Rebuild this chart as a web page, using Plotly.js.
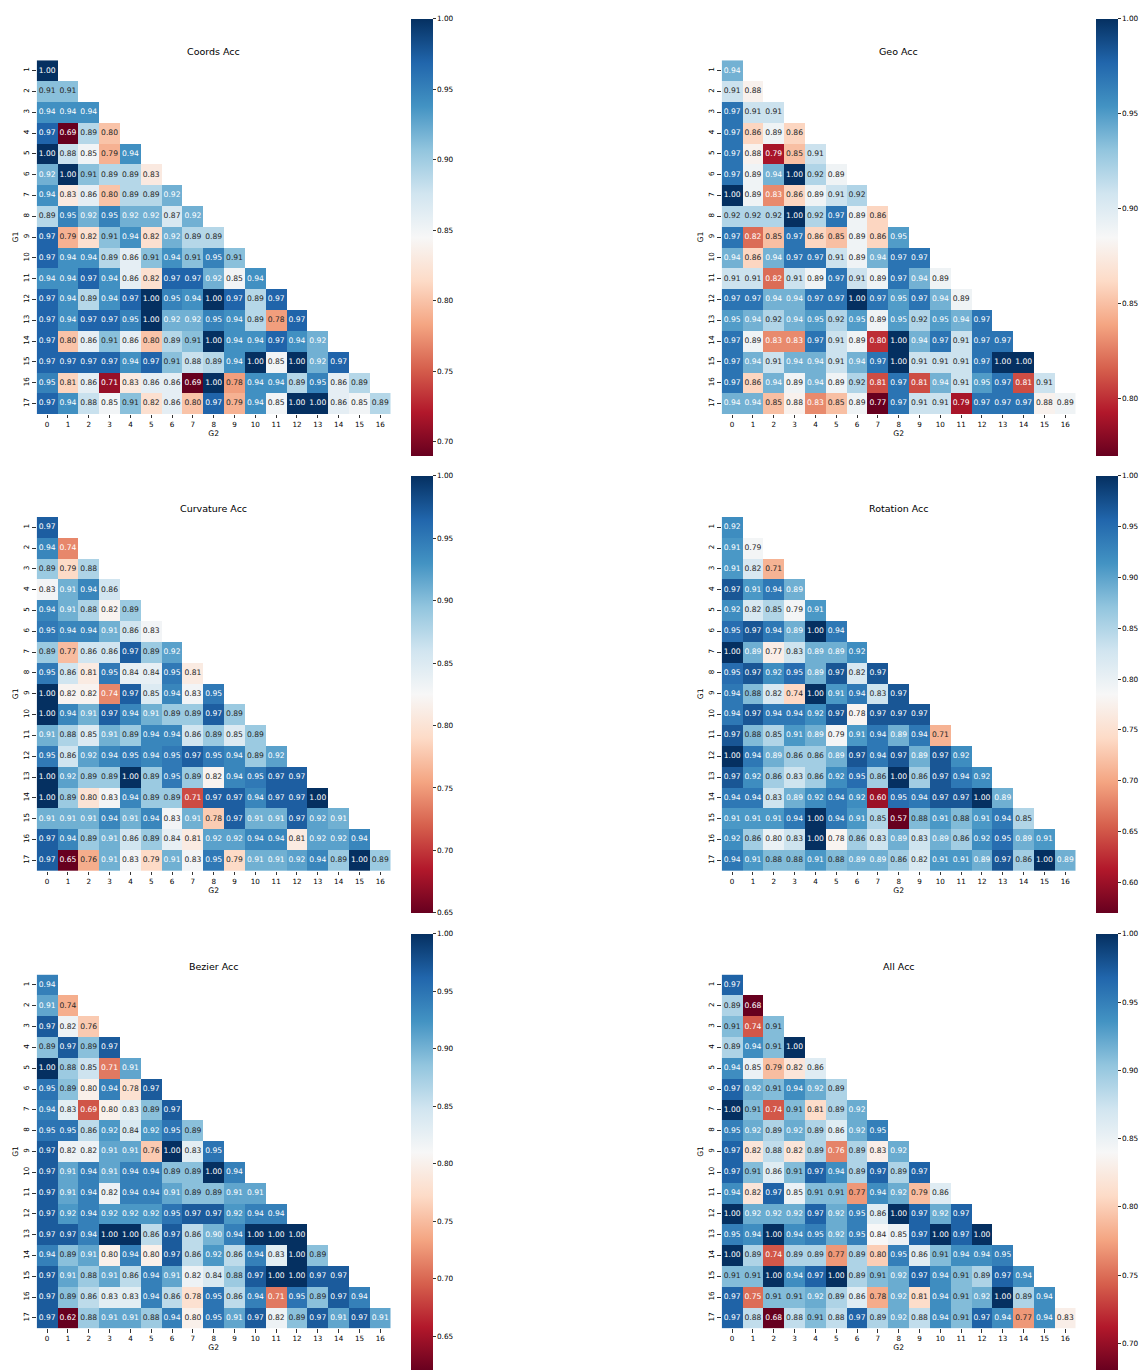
<!DOCTYPE html>
<html><head><meta charset="utf-8">
<script src="https://cdn.plot.ly/plotly-3.0.1.min.js"></script>
<style>html,body{margin:0;padding:0;background:#fff}</style>
</head><body><div id="chart" style="width:1141px;height:1370px"></div>
<script>
// ---------------- DATA ----------------
const g2Labels = [0,1,2,3,4,5,6,7,8,9,10,11,12,13,14,15,16];
const g1Labels = [1,2,3,4,5,6,7,8,9,10,11,12,13,14,15,16,17];
const titles = ["Coords Acc","Geo Acc","Curvature Acc","Rotation Acc","Bezier Acc","All Acc"];
const xTitle = "G2";
const yTitle = "G1";

const coordsAcc = [
 [1.00],
 [0.91,0.91],
 [0.94,0.94,0.94],
 [0.97,0.69,0.89,0.80],
 [1.00,0.88,0.85,0.79,0.94],
 [0.92,1.00,0.91,0.89,0.89,0.83],
 [0.94,0.83,0.86,0.80,0.89,0.89,0.92],
 [0.89,0.95,0.92,0.95,0.92,0.92,0.87,0.92],
 [0.97,0.79,0.82,0.91,0.94,0.82,0.92,0.89,0.89],
 [0.97,0.94,0.94,0.89,0.86,0.91,0.94,0.91,0.95,0.91],
 [0.94,0.94,0.97,0.94,0.86,0.82,0.97,0.97,0.92,0.85,0.94],
 [0.97,0.94,0.89,0.94,0.97,1.00,0.95,0.94,1.00,0.97,0.89,0.97],
 [0.97,0.94,0.97,0.97,0.95,1.00,0.92,0.92,0.95,0.94,0.89,0.78,0.97],
 [0.97,0.80,0.86,0.91,0.86,0.80,0.89,0.91,1.00,0.94,0.94,0.97,0.94,0.92],
 [0.97,0.97,0.97,0.97,0.94,0.97,0.91,0.88,0.89,0.94,1.00,0.85,1.00,0.92,0.97],
 [0.95,0.81,0.86,0.71,0.83,0.86,0.86,0.69,1.00,0.78,0.94,0.94,0.89,0.95,0.86,0.89],
 [0.97,0.94,0.88,0.85,0.91,0.82,0.86,0.80,0.97,0.79,0.94,0.85,1.00,1.00,0.86,0.85,0.89]
];
const geoAcc = [
 [0.94],
 [0.91,0.88],
 [0.97,0.91,0.91],
 [0.97,0.86,0.89,0.86],
 [0.97,0.88,0.79,0.85,0.91],
 [0.97,0.89,0.94,1.00,0.92,0.89],
 [1.00,0.89,0.83,0.86,0.89,0.91,0.92],
 [0.92,0.92,0.92,1.00,0.92,0.97,0.89,0.86],
 [0.97,0.82,0.85,0.97,0.86,0.85,0.89,0.86,0.95],
 [0.94,0.86,0.94,0.97,0.97,0.91,0.89,0.94,0.97,0.97],
 [0.91,0.91,0.82,0.91,0.89,0.97,0.91,0.89,0.97,0.94,0.89],
 [0.97,0.97,0.94,0.94,0.97,0.97,1.00,0.97,0.95,0.97,0.94,0.89],
 [0.95,0.94,0.92,0.94,0.95,0.92,0.95,0.89,0.95,0.92,0.95,0.94,0.97],
 [0.97,0.89,0.83,0.83,0.97,0.91,0.89,0.80,1.00,0.94,0.97,0.91,0.97,0.97],
 [0.97,0.94,0.91,0.94,0.94,0.91,0.94,0.97,1.00,0.91,0.91,0.91,0.97,1.00,1.00],
 [0.97,0.86,0.94,0.89,0.94,0.89,0.92,0.81,0.97,0.81,0.94,0.91,0.95,0.97,0.81,0.91],
 [0.94,0.94,0.85,0.88,0.83,0.85,0.89,0.77,0.97,0.91,0.91,0.79,0.97,0.97,0.97,0.88,0.89]
];
const curvatureAcc = [
 [0.97],
 [0.94,0.74],
 [0.89,0.79,0.88],
 [0.83,0.91,0.94,0.86],
 [0.94,0.91,0.88,0.82,0.89],
 [0.95,0.94,0.94,0.91,0.86,0.83],
 [0.89,0.77,0.86,0.86,0.97,0.89,0.92],
 [0.95,0.86,0.81,0.95,0.84,0.84,0.95,0.81],
 [1.00,0.82,0.82,0.74,0.97,0.85,0.94,0.83,0.95],
 [1.00,0.94,0.91,0.97,0.94,0.91,0.89,0.89,0.97,0.89],
 [0.91,0.88,0.85,0.91,0.89,0.94,0.94,0.86,0.89,0.85,0.89],
 [0.95,0.86,0.92,0.94,0.95,0.94,0.95,0.97,0.95,0.94,0.89,0.92],
 [1.00,0.92,0.89,0.89,1.00,0.89,0.95,0.89,0.82,0.94,0.95,0.97,0.97],
 [1.00,0.89,0.80,0.83,0.94,0.89,0.89,0.71,0.97,0.97,0.94,0.97,0.97,1.00],
 [0.91,0.91,0.91,0.94,0.91,0.94,0.83,0.91,0.78,0.97,0.91,0.91,0.97,0.92,0.91],
 [0.97,0.94,0.89,0.91,0.86,0.89,0.84,0.81,0.92,0.92,0.94,0.94,0.81,0.92,0.92,0.94],
 [0.97,0.65,0.76,0.91,0.83,0.79,0.91,0.83,0.95,0.79,0.91,0.91,0.92,0.94,0.89,1.00,0.89]
];
const rotationAcc = [
 [0.92],
 [0.91,0.79],
 [0.91,0.82,0.71],
 [0.97,0.91,0.94,0.89],
 [0.92,0.82,0.85,0.79,0.91],
 [0.95,0.97,0.94,0.89,1.00,0.94],
 [1.00,0.89,0.77,0.83,0.89,0.89,0.92],
 [0.95,0.97,0.92,0.95,0.89,0.97,0.82,0.97],
 [0.94,0.88,0.82,0.74,1.00,0.91,0.94,0.83,0.97],
 [0.94,0.97,0.94,0.94,0.92,0.97,0.78,0.97,0.97,0.97],
 [0.97,0.88,0.85,0.91,0.89,0.79,0.91,0.94,0.89,0.94,0.71],
 [1.00,0.94,0.89,0.86,0.86,0.89,0.97,0.94,0.97,0.89,0.97,0.92],
 [0.97,0.92,0.86,0.83,0.86,0.92,0.95,0.86,1.00,0.86,0.97,0.94,0.92],
 [0.94,0.94,0.83,0.89,0.92,0.94,0.92,0.60,0.95,0.94,0.97,0.97,1.00,0.89],
 [0.91,0.91,0.91,0.94,1.00,0.94,0.91,0.85,0.57,0.88,0.91,0.88,0.91,0.94,0.85],
 [0.92,0.86,0.80,0.83,1.00,0.78,0.86,0.83,0.89,0.83,0.89,0.86,0.92,0.95,0.89,0.91],
 [0.94,0.91,0.88,0.88,0.91,0.88,0.89,0.89,0.86,0.82,0.91,0.91,0.89,0.97,0.86,1.00,0.89]
];
const bezierAcc = [
 [0.94],
 [0.91,0.74],
 [0.97,0.82,0.76],
 [0.89,0.97,0.89,0.97],
 [1.00,0.88,0.85,0.71,0.91],
 [0.95,0.89,0.80,0.94,0.78,0.97],
 [0.94,0.83,0.69,0.80,0.83,0.89,0.97],
 [0.95,0.95,0.86,0.92,0.84,0.92,0.95,0.89],
 [0.97,0.82,0.82,0.91,0.91,0.76,1.00,0.83,0.95],
 [0.97,0.91,0.94,0.91,0.94,0.94,0.89,0.89,1.00,0.94],
 [0.97,0.91,0.94,0.82,0.94,0.94,0.91,0.89,0.89,0.91,0.91],
 [0.97,0.92,0.94,0.92,0.92,0.92,0.95,0.97,0.97,0.92,0.94,0.94],
 [0.97,0.97,0.94,1.00,1.00,0.86,0.97,0.86,0.90,0.94,1.00,1.00,1.00],
 [0.94,0.89,0.91,0.80,0.94,0.80,0.97,0.86,0.92,0.86,0.94,0.83,1.00,0.89],
 [0.97,0.91,0.88,0.91,0.86,0.94,0.91,0.82,0.84,0.88,0.97,1.00,1.00,0.97,0.97],
 [0.97,0.89,0.86,0.83,0.83,0.94,0.86,0.78,0.95,0.86,0.94,0.71,0.95,0.89,0.97,0.94],
 [0.97,0.62,0.88,0.91,0.91,0.88,0.94,0.80,0.95,0.91,0.97,0.82,0.89,0.97,0.91,0.97,0.91]
];
const allAcc = [
 [0.97],
 [0.89,0.68],
 [0.91,0.74,0.91],
 [0.89,0.94,0.91,1.00],
 [0.94,0.85,0.79,0.82,0.86],
 [0.97,0.92,0.91,0.94,0.92,0.89],
 [1.00,0.91,0.74,0.91,0.81,0.89,0.92],
 [0.95,0.92,0.89,0.92,0.89,0.86,0.92,0.95],
 [0.97,0.82,0.88,0.82,0.89,0.76,0.89,0.83,0.92],
 [0.97,0.91,0.86,0.91,0.97,0.94,0.89,0.97,0.89,0.97],
 [0.94,0.82,0.97,0.85,0.91,0.91,0.77,0.94,0.92,0.79,0.86],
 [1.00,0.92,0.92,0.92,0.97,0.92,0.95,0.86,1.00,0.97,0.92,0.97],
 [0.95,0.94,1.00,0.94,0.95,0.92,0.95,0.84,0.85,0.97,1.00,0.97,1.00],
 [1.00,0.89,0.74,0.89,0.89,0.77,0.89,0.80,0.95,0.86,0.91,0.94,0.94,0.95],
 [0.91,0.91,1.00,0.94,0.97,1.00,0.89,0.91,0.92,0.97,0.94,0.91,0.89,0.97,0.94],
 [0.97,0.75,0.91,0.91,0.92,0.89,0.86,0.78,0.92,0.81,0.94,0.91,0.92,1.00,0.89,0.94],
 [0.97,0.88,0.68,0.88,0.91,0.88,0.97,0.89,0.92,0.88,0.94,0.91,0.97,0.94,0.77,0.94,0.83]
];
const datasets = [coordsAcc, geoAcc, curvatureAcc, rotationAcc, bezierAcc, allAcc];

// ---------------- STYLE ----------------
const W = 1141, H = 1370;
const FONT = "DejaVu Sans, Liberation Sans, sans-serif";
const rdbuStops = [
 [0.0,[103,0,31]],[0.1,[178,24,43]],[0.2,[214,96,77]],[0.3,[244,165,130]],
 [0.4,[253,219,199]],[0.5,[247,247,247]],[0.6,[209,229,240]],[0.7,[146,197,222]],
 [0.8,[67,147,195]],[0.9,[33,102,172]],[1.0,[5,48,97]]
];
const colorscale = rdbuStops.map(s => [s[0], `rgb(${s[1].join(',')})`]);

function colorAt(t){
  t = Math.max(0, Math.min(1, t));
  for (let i = 1; i < rdbuStops.length; i++){
    if (t <= rdbuStops[i][0]){
      const a = rdbuStops[i-1], b = rdbuStops[i];
      const f = (t - a[0]) / (b[0] - a[0]);
      return a[1].map((c, k) => c + f * (b[1][k] - c));
    }
  }
  return rdbuStops[rdbuStops.length-1][1];
}
function lum(rgb){
  const l = rgb.map(c => { c /= 255; return c <= 0.03928 ? c/12.92 : Math.pow((c+0.055)/1.055, 2.4); });
  return 0.2126*l[0] + 0.7152*l[1] + 0.0722*l[2];
}

// panel pixel geometry
const cellsPx = 354;
const panelPos = [
  [36.7, 60.3],[721.7, 60.3],
  [36.7, 517.3],[721.7, 517.3],
  [36.7, 975.3],[721.7, 975.3]
];
const px2x = p => p / W;
const px2y = p => 1 - p / H;

const traces = [];
const layout = {
  width: W, height: H,
  margin: {l:0, r:0, t:0, b:0},
  paper_bgcolor: '#fff', plot_bgcolor: '#fff',
  showlegend: false,
  font: {family: FONT, color: '#000'},
  annotations: []
};

datasets.forEach((rows, i) => {
  const n = i + 1;
  const xa = n === 1 ? 'x' : 'x' + n;
  const ya = n === 1 ? 'y' : 'y' + n;
  const [x0, y0] = panelPos[i];
  const flat = rows.flat();
  const zmin = Math.min(...flat), zmax = Math.max(...flat);
  const z = rows.map(r => g2Labels.map((_, c) => c < r.length ? r[c] : null));

  traces.push({
    type: 'heatmap', x: g2Labels, y: g1Labels, z: z,
    xaxis: xa, yaxis: ya,
    colorscale: colorscale, zmin: zmin, zmax: zmax,
    hoverinfo: 'skip',
    colorbar: {
      x: px2x(x0 + 374.5), xanchor: 'left', xpad: 0,
      y: px2y(y0 + cellsPx/2), yanchor: 'middle', ypad: 0,
      lenmode: 'pixels', len: 437,
      thicknessmode: 'pixels', thickness: 22,
      outlinewidth: 0,
      ticks: 'outside', ticklen: 3, tickwidth: 0.8, tickcolor: '#000',
      tick0: 0, dtick: 0.05, tickformat: '.2f',
      tickfont: {family: FONT, size: 7.3, color: '#000'}
    }
  });

  // annotation text
  const tx = [], ty = [], tt = [], tc = [];
  rows.forEach((r, ri) => r.forEach((v, ci) => {
    tx.push(g2Labels[ci]); ty.push(g1Labels[ri]); tt.push(v.toFixed(2));
    tc.push(lum(colorAt((v - zmin) / (zmax - zmin))) > 0.408 ? '#262626' : '#ffffff');
  }));
  traces.push({
    type: 'scatter', mode: 'text', x: tx, y: ty, text: tt,
    textposition: 'middle center',
    textfont: {family: FONT, size: 7.6, color: tc},
    xaxis: xa, yaxis: ya, hoverinfo: 'skip', cliponaxis: false
  });

  const xkey = n === 1 ? 'xaxis' : 'xaxis' + n;
  const ykey = n === 1 ? 'yaxis' : 'yaxis' + n;
  layout[xkey] = {
    domain: [px2x(x0), px2x(x0 + cellsPx)], anchor: ya,
    range: [-0.5, 16.5], tickvals: g2Labels, ticktext: g2Labels.map(String),
    ticks: 'outside', ticklen: 3.5, tickwidth: 0.8, tickcolor: '#000',
    showgrid: false, zeroline: false, showline: false,
    tickfont: {family: FONT, size: 7.2, color: '#000'},
    title: {text: xTitle, font: {family: FONT, size: 7.6, color: '#000'}, standoff: 2}
  };
  layout[ykey] = {
    domain: [px2y(y0 + cellsPx), px2y(y0)], anchor: xa,
    range: [17.5, 0.5], tickvals: g1Labels, ticktext: g1Labels.map(String),
    ticks: 'outside', ticklen: 3.5, tickwidth: 0.8, tickcolor: '#000', tickangle: -90,
    showgrid: false, zeroline: false, showline: false,
    tickfont: {family: FONT, size: 7.2, color: '#000'},
    title: {text: yTitle, font: {family: FONT, size: 7.6, color: '#000'}, standoff: 2}
  };
  layout.annotations.push({
    text: titles[i], xref: 'paper', yref: 'paper',
    x: px2x(x0 + cellsPx/2), y: px2y(y0 - 8.5), xanchor: 'center', yanchor: 'middle',
    showarrow: false, font: {family: FONT, size: 9.5, color: '#000'}
  });
});

Plotly.newPlot('chart', traces, layout, {staticPlot: true, displayModeBar: false});
</script>
</body></html>
